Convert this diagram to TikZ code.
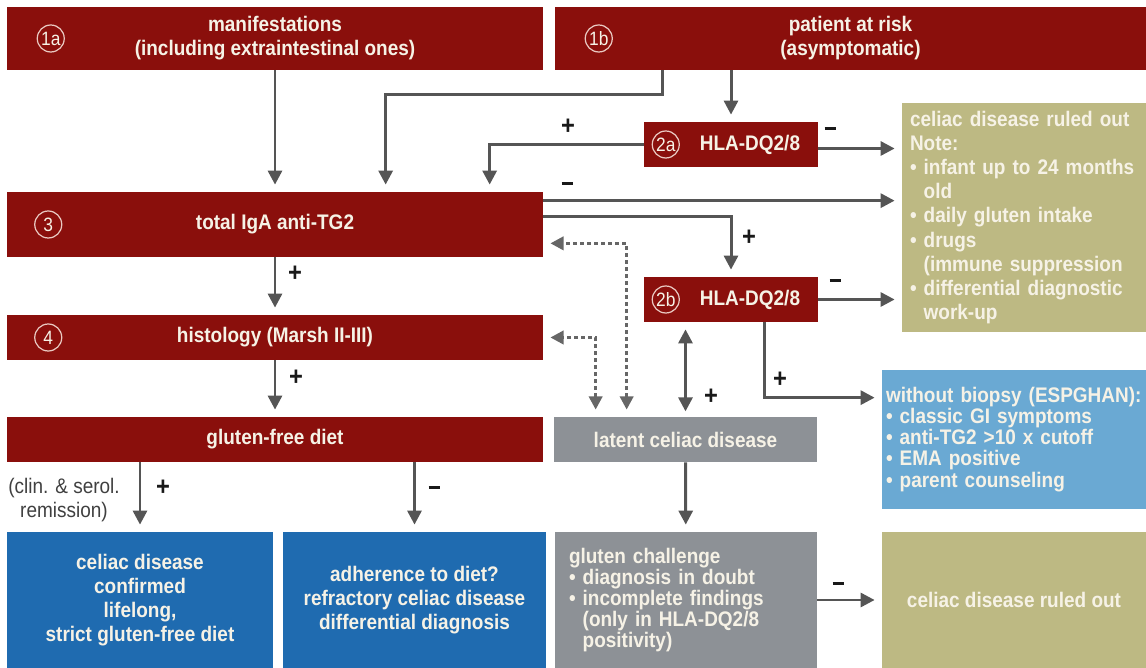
\documentclass[tikz,border=0pt]{standalone}
\usepackage{fontspec}
\setmainfont{Liberation Sans}[FakeStretch=0.9]
\usetikzlibrary{arrows.meta,positioning,calc}
\definecolor{cdred}{HTML}{8A0F0C}
\definecolor{cdolive}{HTML}{BDB983}
\definecolor{cdsky}{HTML}{6AA9D3}
\definecolor{cdblue}{HTML}{1F6BB0}
\definecolor{cdgray}{HTML}{8D9196}
\definecolor{cdline}{HTML}{555555}
\definecolor{cdcream}{HTML}{F6F2E6}
\definecolor{cdring}{HTML}{EAC9C2}
\newcommand{\bul}{\textbullet\ }
\newcommand{\ind}{\hphantom{\textbullet\ }}
\newcommand{\minusbar}{\rule[0.1cm]{0.22cm}{0.055cm}}

\begin{document}
\begin{tikzpicture}[x=0.02cm, y=-0.02cm,
    every node/.style={font=\fontsize{12}{13.7}\selectfont},
    boxsize/.style 2 args={minimum width=#1*0.02cm, minimum height=#2*0.02cm},
    anybox/.style={inner sep=0pt, text=cdcream, align=center,
      font=\fontsize{12}{13.7}\selectfont\bfseries},
    redbox/.style={anybox, fill=cdred},
    graybox/.style={anybox, fill=cdgray},
    olivebox/.style={anybox, fill=cdolive},
    skybox/.style={anybox, fill=cdsky},
    bluebox/.style={anybox, fill=cdblue},
    listbox/.style={align=left, font=\fontsize{12}{12}\selectfont\bfseries},
    stepno/.style={circle, draw=cdring, line width=0.7pt, text=cdcream,
      font=\fontsize{11}{11}\selectfont, inner sep=0pt, minimum size=0.54cm},
    sign/.style={font=\fontsize{15}{15}\selectfont\bfseries, text=black!90, inner sep=0pt},
    arr/.style={draw=cdline, line width=1.7pt, shorten >=4pt,
      -{Triangle[length=8pt,width=8pt]}},
    dblarr/.style={arr, shorten <=3pt,
      {Triangle[length=8pt,width=8pt]}-{Triangle[length=8pt,width=8pt]}},
    dotarr/.style={draw=cdline!90, line width=1.8pt, dash pattern=on 2.3pt off 1.7pt,
      shorten >=4pt, shorten <=4pt,
      {Triangle[length=7.5pt,width=7.5pt]}-{Triangle[length=7.5pt,width=7.5pt]}}]

  \useasboundingbox (0,0) rectangle (1146,668);

  % entry points
  \node[redbox, boxsize={536}{63}] (m1a) at (275,38.5)
    {manifestations\\(including extraintestinal ones)};
  \node[redbox, boxsize={591}{63}] (m1b) at (850.5,38.5)
    {patient at risk\\(asymptomatic)};
  \node[stepno, right=0.6cm of m1a.west] (c1a) {1a};
  \node[stepno, right=0.6cm of m1b.west] (c1b) {1b};

  % HLA typing
  \node[redbox, boxsize={174}{45}] (h2a) at (731,144.5) {\hspace*{0.76cm}HLA-DQ2/8};
  \node[redbox, boxsize={174}{45}] (h2b) at (731,299.5) {\hspace*{0.76cm}HLA-DQ2/8};
  \node[stepno, right=0.16cm of h2a.west] (c2a) {2a};
  \node[stepno, right=0.16cm of h2b.west] (c2b) {2b};

  % main column
  \node[redbox, boxsize={536}{65}] (iga) at (275,224.5) {total IgA anti-TG2};
  \node[redbox, boxsize={536}{45}] (hist) at (275,337.5) {histology (Marsh II-III)};
  \node[redbox, boxsize={536}{45}] (gfd) at (275,439.5) {gluten-free diet};
  \node[stepno, right=0.55cm of iga.west] (c3) {3};
  \node[stepno, right=0.55cm of hist.west] (c4) {4};
  \node[graybox, boxsize={263}{45}] (lat) at (685.5,439.5) {latent celiac disease};

  % outcomes
  \node[olivebox, boxsize={244}{229}, text width=4.56cm, inner xsep=0.16cm,
        align=left] (out1) at (1024,217.5)
    {celiac disease ruled out\\Note:\\\bul infant up to 24 months\\\ind old\\
     \bul daily gluten intake\\\bul drugs\\\ind (immune suppression\\
     \bul differential diagnostic\\\ind work-up};
  \node[skybox, listbox, boxsize={264}{139}, text width=5.12cm, inner xsep=0.08cm]
    (espg) at (1014,439.5)
    {without biopsy (ESPGHAN):\\\bul classic GI symptoms\\\bul anti-TG2 >10 x cutoff\\
     \bul EMA positive\\\bul parent counseling};
  \node[bluebox, boxsize={266}{136}] (conf) at (140,600)
    {celiac disease\\confirmed\\lifelong,\\strict gluten-free diet};
  \node[bluebox, boxsize={263}{136}] (adh) at (414.5,600)
    {adherence to diet?\\refractory celiac disease\\differential diagnosis};
  \node[graybox, listbox, boxsize={262}{136}, text width=4.68cm, inner xsep=0.28cm]
    (chal) at (686,600)
    {gluten challenge\\\bul diagnosis in doubt\\\bul incomplete findings\\
     \ind(only in HLA-DQ2/8\\\ind positivity)};
  \node[olivebox, boxsize={264}{136}] (out2) at (1014,600) {celiac disease ruled out};

  % connectors
  \draw[arr] (m1a) -- (iga);
  \draw[arr] ($(m1b.south west)+(108,0)$) -- ++(0,24) -| ($(iga.north west)+(379,0)$);
  \draw[arr] (m1b.south -| h2a.north) -- (h2a.north);
  \draw[arr] (h2a.west) -| ($(iga.north west)+(483,0)$);
  \draw[arr] ($(h2a.east)+(0,4)$) -- ($(h2a.east -| out1.west)+(0,4)$);
  \draw[arr] ($(iga.north east)+(0,9)$) -- ($(iga.north east -| out1.west)+(0,9)$);
  \draw[arr] ($(iga.north east)+(0,25)$) -| (h2b.north);
  \draw[arr] (h2b.east) -- (h2b.east -| out1.west);
  \draw[arr] ($(h2b.south west)+(121,0)$) |- ($(espg.north west)+(0,28)$);
  \draw[dblarr] (lat.north) -- (lat.north |- h2b.south);
  \draw[dotarr] ($(lat.north west)+(73,0)$) |- ($(iga.south east)+(0,-14)$);
  \draw[dotarr] ($(lat.north west)+(42,0)$) |- (hist.east);
  \draw[arr] (iga) -- (hist);
  \draw[arr] (hist) -- (gfd);
  \draw[arr] (gfd.south -| conf.north) -- (conf.north);
  \draw[arr] (gfd.south -| adh.north) -- (adh.north);
  \draw[arr] (lat) -- (chal);
  \draw[arr] (chal) -- (out2);

  % signs
  \node[sign] (p2a) at (568,127) {+};
  \node[sign] (n2a) at (830,131) {\minusbar};
  \node[sign] (n3) at (567,186) {\minusbar};
  \node[sign] (p3b) at (749,238) {+};
  \node[sign] (n2b) at (835,283) {\minusbar};
  \node[sign] (p2b) at (780,380) {+};
  \node[sign] (p2l) at (711,397) {+};
  \node[sign] (p3) at (295,274) {+};
  \node[sign] (p4) at (296,378) {+};
  \node[sign] (pgf) at (163,488) {+};
  \node[sign] (ngf) at (434,490) {\minusbar};
  \node[sign] (nch) at (838,586) {\minusbar};
  \node[align=center, text=black!75] (rem) at (64,500) {(clin. \& serol.\\remission)};

\end{tikzpicture}
\end{document}
